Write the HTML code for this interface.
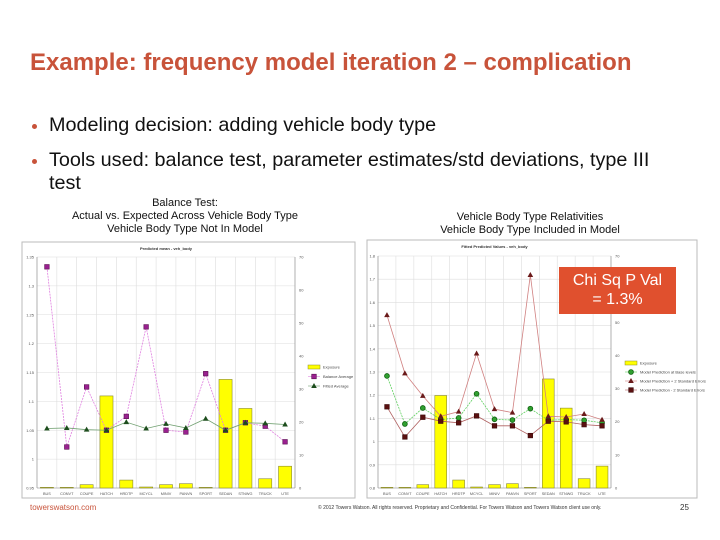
<!DOCTYPE html>
<html><head><meta charset="utf-8">
<style>
body{margin:0;width:720px;height:540px;background:#fff;font-family:"Liberation Sans",sans-serif;position:relative;overflow:hidden}
.abs{position:absolute}
#title{left:30px;top:49px;font-size:24px;font-weight:bold;color:#c8533a;white-space:nowrap}
.bul{left:32px;font-size:19.8px;color:#111;}
.bul span.dot{position:absolute;left:0;top:10px;width:5px;height:5px;border-radius:50%;background:#c8533a}
.bul .t{margin-left:17px;display:block;width:615px;line-height:23px}
.cap{font-size:11px;text-align:center;color:#111;line-height:13px}
svg text{font-family:"Liberation Sans",sans-serif}
</style></head><body>
<div id="title" class="abs">Example: frequency model iteration 2 – complication</div>
<div class="abs bul" style="top:114px"><span class="dot"></span><span class="t">Modeling decision: adding vehicle body type</span></div>
<div class="abs bul" style="top:149px"><span class="dot"></span><span class="t">Tools used: balance test, parameter estimates/std deviations, type III test</span></div>
<div class="abs cap" style="left:50px;top:197px;width:270px">Balance Test:<br>Actual vs. Expected Across Vehicle Body Type<br>Vehicle Body Type Not In Model</div>
<div class="abs cap" style="left:400px;top:211px;width:260px">Vehicle Body Type Relativities<br>Vehicle Body Type Included in Model</div>
<svg id="chart" class="abs" style="left:0;top:0" width="720" height="540"></svg>
<div class="abs" style="left:559px;top:267px;width:117px;height:47px;background:#e0502e;color:#fff;font-size:16px;text-align:center;line-height:19px;padding-top:4px;box-sizing:border-box">Chi Sq P Val<br>= 1.3%</div>
<div class="abs" style="left:30px;top:503px;font-size:8px;color:#c8533a">towerswatson.com</div>
<div class="abs" style="left:318px;top:505px;font-size:5px;color:#333;white-space:nowrap">© 2012 Towers Watson. All rights reserved. Proprietary and Confidential. For Towers Watson and Towers Watson client use only.</div>
<div class="abs" style="left:680px;top:503px;font-size:8px;color:#333">25</div>
<script>
const categories=["BUS","CONVT","COUPE","HATCH","HRDTP","MCYCL","MINIV","PANVN","SPORT","SEDAN","STNWG","TRUCK","UTE"];
const exposure=[0.2,0.2,1.0,27.9,2.4,0.3,1.0,1.3,0.2,32.9,24.1,2.8,6.6];
const balanceAverage=[1.333,1.021,1.125,1.05,1.074,1.229,1.05,1.047,1.148,1.05,1.063,1.057,1.03];
const fittedAverage=[1.053,1.054,1.051,1.05,1.064,1.053,1.061,1.054,1.07,1.05,1.063,1.062,1.06];
const leftTicks=["1.35","1.3","1.25","1.2","1.15","1.1","1.05","1","0.95"];
const exposureTicks=["70","60","50","40","30","20","10","0"];
const modelPrediction=[1.283,1.076,1.145,1.095,1.102,1.206,1.096,1.093,1.142,1.092,1.095,1.092,1.081];
const plus2SE=[1.545,1.294,1.197,1.109,1.129,1.38,1.14,1.125,1.718,1.109,1.106,1.119,1.094];
const minus2SE=[1.15,1.02,1.105,1.088,1.081,1.111,1.068,1.068,1.026,1.088,1.085,1.073,1.068];
const rightTicks=["1.8","1.7","1.6","1.5","1.4","1.3","1.2","1.1","1","0.9","0.8"];
const NS="http://www.w3.org/2000/svg";
const svg=document.getElementById('chart');
function mk(tag,attrs,parent){const e=document.createElementNS(NS,tag);for(const k in attrs)e.setAttribute(k,attrs[k]);(parent||svg).appendChild(e);return e;}
function marker(shape,x,y,fill,stroke){
 let m;
 if(shape==='sq')m=mk('rect',{x:x-2.3,y:y-2.3,width:4.6,height:4.6,fill:fill,stroke:stroke,'stroke-width':0.6});
 else if(shape==='tri')m=mk('path',{d:`M${x} ${y-3}L${x+2.8} ${y+2}L${x-2.8} ${y+2}Z`,fill:fill});
 else m=mk('circle',{cx:x,cy:y,r:2.4,fill:fill,stroke:stroke,'stroke-width':0.8});
 return m;
}
function drawChart(cfg){
 const g=mk('g',{});
 
 
 mk('rect',{x:cfg.fx,y:cfg.fy,width:cfg.fw,height:cfg.fh,fill:'#fff',stroke:'#bbb','stroke-width':1},g);
 const L=cfg.L,R=cfg.R,T=cfg.T,B=cfg.B,n=categories.length,bw=(R-L)/n;
 const yL=v=>B-(v-cfg.lmin)/(cfg.lmax-cfg.lmin)*(B-T);
 const yR=v=>B-v/cfg.rmax*(B-T);
 const xC=i=>L+bw*(i+0.5);
 const t=mk('text',{x:(L+R)/2,y:cfg.fy+8,'font-size':4,'text-anchor':'middle','font-weight':'bold',fill:'#333'},g);t.textContent=cfg.title;
 
 
 cfg.lticks.forEach((s,k)=>{const y=T+k*(B-T)/(cfg.lticks.length-1);
  mk('line',{x1:L,x2:R,y1:y,y2:y,stroke:'#ddd','stroke-width':0.6},g);
  const tx=mk('text',{x:L-3,y:y+1.5,'font-size':4,'text-anchor':'end',fill:'#555'},g);tx.textContent=s;
  
  });
 exposureTicks.forEach((s,k)=>{const y=T+k*(B-T)/(exposureTicks.length-1);
  const tx=mk('text',{x:R+4,y:y+1.5,'font-size':4,fill:'#555'},g);tx.textContent=s;
  
  });
 for(let i=0;i<=n;i++)mk('line',{x1:L+bw*i,x2:L+bw*i,y1:T,y2:B,stroke:'#ddd','stroke-width':0.6},g);
 mk('line',{x1:L,x2:L,y1:T,y2:B,stroke:'#888','stroke-width':0.6},g);
 mk('line',{x1:R,x2:R,y1:T,y2:B,stroke:'#888','stroke-width':0.6},g);
 mk('line',{x1:L,x2:R,y1:B,y2:B,stroke:'#888','stroke-width':0.6},g);
 categories.forEach((c,i)=>{
  const y=yR(exposure[i]);
  const b=mk('rect',{x:xC(i)-bw*0.33,y:y,width:bw*0.66,height:B-y,fill:'#ffff00',stroke:'#8a8a30','stroke-width':0.6},g);
  
  
  const tx=mk('text',{x:xC(i),y:B+7,'font-size':3.8,'text-anchor':'middle',fill:'#555'},g);tx.textContent=c;
  
  
 });
 cfg.series.forEach(s=>{
  const pts=s.data.map((v,i)=>xC(i)+','+yL(v)).join(' ');
  const pl=mk('polyline',{points:pts,fill:'none',stroke:s.line,'stroke-width':0.8,'stroke-dasharray':s.dash||''},g);
  
  
  s.data.forEach((v,i)=>{const m=marker(s.shape,xC(i),yL(v),s.fill,s.stroke);g.appendChild(m);
   
   });
 });
 let ly=cfg.legY;
 const lg=mk('g',{},g);
 
 
 mk('rect',{x:cfg.legX,y:ly-2,width:12,height:4,fill:'#ffff00',stroke:'#8a8a30','stroke-width':0.5},lg);
 let tx=mk('text',{x:cfg.legX+15,y:ly+1.5,'font-size':4,fill:'#444'},lg);tx.textContent='Exposure';
 cfg.series.forEach(s=>{ly+=cfg.legStep;
  mk('line',{x1:cfg.legX,x2:cfg.legX+12,y1:ly,y2:ly,stroke:s.line,'stroke-width':0.6},lg);
  lg.appendChild(marker(s.shape,cfg.legX+6,ly,s.fill,s.stroke));
  const t2=mk('text',{x:cfg.legX+15,y:ly+1.5,'font-size':4,fill:'#444'},lg);t2.textContent=s.label;});
}
drawChart({name:'balance-test-chart',fx:22,fy:242,fw:333,fh:256,L:37,R:295,T:257,B:488,lmin:0.95,lmax:1.35,rmax:70,lticks:leftTicks,
 title:'Predicted mean - veh_body',legX:308,legY:367,legStep:9.5,
 series:[
  {id:'balance-average',label:'Balance Average',data:balanceAverage,line:'#e080e0',dash:'2,1',shape:'sq',fill:'#9a2090',stroke:'#5a1050'},
  {id:'fitted-average',label:'Fitted Average',data:fittedAverage,line:'#70a070',shape:'tri',fill:'#1d4d1d'}
 ]});
drawChart({name:'relativities-chart',fx:367,fy:240,fw:330,fh:258,L:378,R:611,T:256,B:488,lmin:0.8,lmax:1.8,rmax:70,lticks:rightTicks,
 title:'Fitted Predicted Values - veh_body',legX:625,legY:363,legStep:9,
 series:[
  {id:'model-prediction',label:'Model Prediction at Base levels',data:modelPrediction,line:'#60d060',dash:'2,1',shape:'circ',fill:'#30a030',stroke:'#0d5d0d'},
  {id:'plus-2-se',label:'Model Prediction + 2 Standard Errors',data:plus2SE,line:'#d08080',shape:'tri',fill:'#6a1a1a'},
  {id:'minus-2-se',label:'Model Prediction - 2 Standard Errors',data:minus2SE,line:'#b06060',shape:'sq',fill:'#5a1010',stroke:'#3a0808'}
 ]});
</script>
</body></html>
